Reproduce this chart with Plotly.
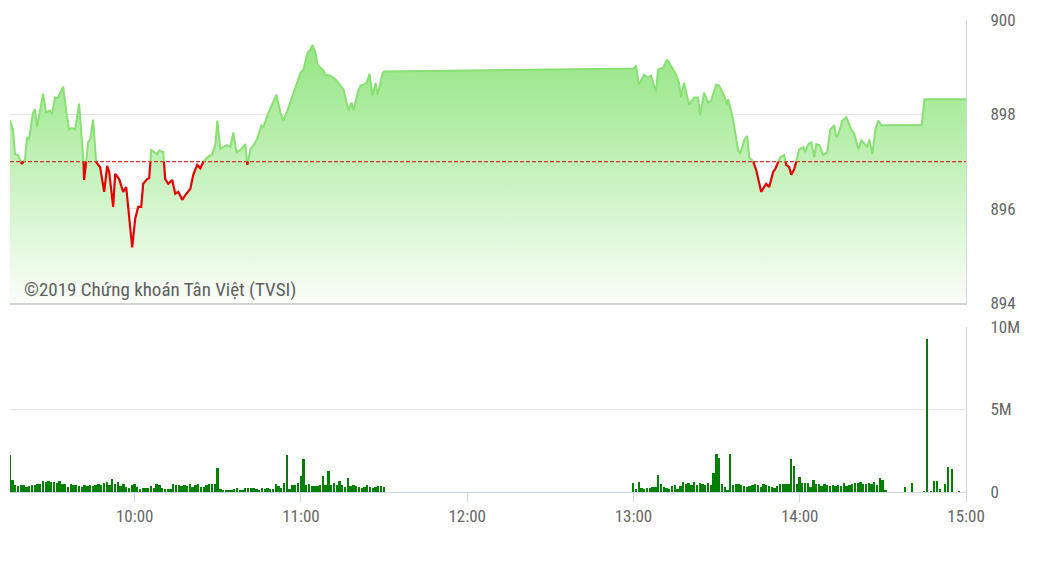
import pandas as pd
import plotly.graph_objects as go

DAY = "2019-01-01"
REF_PRICE = 897.0

price_times = [
    "09:15:00", "09:16:05", "09:16:48", "09:17:53", "09:19:20", "09:20:25", "09:21:09", "09:21:52",
    "09:23:19", "09:24:02", "09:24:46", "09:26:56", "09:28:01", "09:29:27", "09:30:11", "09:31:16",
    "09:32:21", "09:34:10", "09:35:36", "09:36:20", "09:37:25", "09:38:30", "09:39:56", "09:41:23",
    "09:41:45", "09:42:28", "09:43:11", "09:43:55", "09:45:00", "09:46:05", "09:47:32", "09:48:59",
    "09:50:04", "09:50:47", "09:52:14", "09:52:57", "09:54:24", "09:55:50", "09:56:56", "09:59:06",
    "10:00:11", "10:01:16", "10:02:21", "10:03:04", "10:04:31", "10:05:14", "10:05:58", "10:07:03",
    "10:08:08", "10:08:52", "10:10:18", "10:11:01", "10:12:07", "10:13:33", "10:14:38", "10:15:43",
    "10:17:10", "10:18:15", "10:20:04", "10:21:08", "10:22:35", "10:23:40", "10:24:46", "10:26:12",
    "10:28:01", "10:29:06", "10:29:49", "10:30:54", "10:31:59", "10:33:26", "10:34:31", "10:35:36",
    "10:36:41", "10:38:08", "10:39:56", "10:40:40", "10:41:45", "10:43:11", "10:44:17", "10:45:43",
    "10:46:27", "10:47:53", "10:49:20", "10:51:08", "10:52:35", "10:53:40", "10:55:07", "10:57:17",
    "10:59:49", "11:00:54", "11:02:21", "11:03:26", "11:04:10", "11:05:14", "11:05:58", "11:07:03",
    "11:08:08", "11:08:52", "11:10:40", "11:12:28", "11:14:17", "11:15:22", "11:16:27", "11:17:10",
    "11:18:15", "11:18:59", "11:20:25", "11:21:31", "11:22:35", "11:23:41", "11:24:46", "11:25:50",
    "11:26:56", "11:27:39", "11:29:28", "11:30:00",
    "13:00:00", "13:00:54", "13:01:59", "13:03:48", "13:05:14", "13:06:20", "13:08:08", "13:08:52",
    "13:10:40", "13:12:07", "13:13:34", "13:15:22", "13:16:27", "13:17:10", "13:18:15", "13:20:04",
    "13:21:52", "13:23:19", "13:24:02", "13:25:29", "13:26:56", "13:28:01", "13:29:49", "13:30:54",
    "13:32:43", "13:33:48", "13:34:10", "13:35:58", "13:37:46", "13:38:30", "13:39:56", "13:41:01",
    "13:41:45", "13:43:11", "13:44:17", "13:46:05", "13:47:53", "13:48:59", "13:50:25", "13:51:08",
    "13:52:14", "13:52:57", "13:54:24", "13:55:07", "13:56:12", "13:56:56", "13:58:01", "13:58:44",
    "13:59:49", "14:01:16", "14:01:59", "14:03:04", "14:04:10", "14:05:14", "14:05:58", "14:07:03",
    "14:08:29", "14:09:56", "14:11:01", "14:12:28", "14:13:11", "14:13:55", "14:15:22", "14:16:49",
    "14:18:15", "14:19:42", "14:21:08", "14:22:14", "14:23:19", "14:24:24", "14:25:07", "14:26:12",
    "14:27:17", "14:28:22", "14:29:28", "14:30:32", "14:44:00", "14:45:00", "15:00:00",
]
price_values = [
    897.87, 897.68, 897.16, 897.14, 896.95, 897.05, 897.52, 897.47,
    898.04, 898.11, 897.73, 898.44, 898.04, 898.08, 898.00, 898.36,
    898.36, 898.59, 897.94, 897.68, 897.71, 897.68, 898.23, 897.26,
    896.61, 896.99, 897.41, 897.47, 897.89, 896.99, 896.88, 896.36,
    896.91, 896.78, 896.04, 896.74, 896.63, 896.36, 896.46, 895.18,
    895.79, 896.04, 896.04, 896.53, 896.63, 896.65, 897.24, 897.20,
    897.16, 897.24, 897.20, 896.63, 896.53, 896.61, 896.32, 896.36,
    896.19, 896.29, 896.42, 896.72, 896.93, 896.86, 896.99, 897.09,
    897.16, 897.35, 897.87, 897.26, 897.31, 897.35, 897.31, 897.62,
    897.20, 897.24, 897.37, 896.93, 897.26, 897.37, 897.49, 897.77,
    897.73, 897.98, 898.19, 898.42, 898.04, 897.87, 898.08, 898.46,
    898.88, 898.95, 899.31, 899.37, 899.47, 899.31, 899.05, 898.99,
    898.93, 898.84, 898.82, 898.74, 898.61, 898.53, 898.25, 898.08,
    898.25, 898.08, 898.46, 898.61, 898.63, 898.67, 898.86, 898.40,
    898.67, 898.42, 898.88, 898.91,
    898.97, 899.03, 898.63, 898.84, 898.78, 898.82, 898.48, 898.95,
    898.99, 899.16, 899.03, 898.84, 898.67, 898.36, 898.67, 898.21,
    898.36, 898.36, 897.98, 898.46, 898.25, 898.29, 898.63, 898.61,
    898.40, 898.21, 898.32, 897.89, 897.24, 897.16, 897.45, 897.54,
    897.09, 897.01, 896.82, 896.36, 896.53, 896.46, 896.78, 896.84,
    896.99, 897.09, 897.14, 896.93, 896.88, 896.72, 896.84, 896.99,
    897.26, 897.31, 897.20, 897.37, 897.41, 897.09, 897.37, 897.35,
    897.14, 897.20, 897.68, 897.77, 897.52, 897.58, 897.87, 897.94,
    897.73, 897.58, 897.26, 897.45, 897.37, 897.31, 897.47, 897.16,
    897.68, 897.87, 897.77, 897.77, 897.77, 898.32, 898.32,
]

# Volume per minute, in millions of shares
vol_morning_start = "09:15:00"
vol_morning = [
    2.27, 0.74, 0.40, 0.36, 0.42, 0.40, 0.30, 0.36, 0.42, 0.40,
    0.50, 0.48, 0.66, 0.62, 0.64, 0.62, 0.60, 0.54, 0.64, 0.46,
    0.46, 0.30, 0.46, 0.44, 0.40, 0.36, 0.30, 0.40, 0.38, 0.44,
    0.38, 0.40, 0.48, 0.40, 0.56, 0.60, 0.42, 0.76, 0.50, 0.62,
    0.36, 0.48, 0.30, 0.24, 0.40, 0.46, 0.28, 0.20, 0.24, 0.26,
    0.26, 0.36, 0.24, 0.50, 0.40, 0.24, 0.20, 0.16, 0.20, 0.46,
    0.42, 0.40, 0.38, 0.40, 0.36, 0.46, 0.32, 0.44, 0.46, 0.30,
    0.32, 0.40, 0.46, 0.46, 0.46, 1.45, 0.16, 0.14, 0.14, 0.12,
    0.14, 0.20, 0.22, 0.14, 0.10, 0.22, 0.24, 0.22, 0.22, 0.20,
    0.14, 0.22, 0.20, 0.24, 0.18, 0.20, 0.48, 0.34, 0.22, 0.56,
    2.27, 0.18, 0.44, 0.44, 0.52, 0.94, 1.97, 0.40, 0.46, 0.34,
    0.36, 0.38, 0.40, 0.96, 0.40, 1.30, 0.42, 0.56, 0.40, 0.66,
    0.40, 0.30, 0.84, 0.36, 0.44, 0.36, 0.28, 0.22, 0.30, 0.40,
    0.30, 0.26, 0.30, 0.36, 0.36, 0.30,
]
vol_afternoon_start = "13:00:00"
vol_afternoon = [
    0.52, 0.16, 0.62, 0.26, 0.20, 0.26, 0.26, 0.32, 0.32, 1.00,
    0.46, 0.32, 0.26, 0.20, 0.36, 0.40, 0.20, 0.34, 0.62, 0.46,
    0.52, 0.40, 0.62, 0.40, 0.52, 0.46, 0.40, 0.52, 0.40, 1.12,
    2.33, 2.03, 0.46, 0.30, 0.12, 2.33, 0.40, 0.46, 0.46, 0.40,
    0.36, 0.30, 0.36, 0.40, 0.46, 0.40, 0.30, 0.46, 0.40, 0.36,
    0.30, 0.26, 0.36, 0.46, 0.46, 0.46, 0.50, 1.97, 1.57, 0.46,
    0.88, 0.52, 0.52, 0.52, 0.30, 0.70, 0.46, 0.46, 0.36, 0.46,
    0.40, 0.36, 0.40, 0.36, 0.40, 0.36, 0.52, 0.36, 0.40, 0.46,
    0.52, 0.52, 0.62, 0.46, 0.46, 0.56, 0.46, 0.62, 0.40, 0.82,
    0.72, 0.06,
]
vol_late_times = ["14:38:00", "14:40:30", "14:45:00", "14:46:00", "14:47:30", "14:48:35",
                  "14:49:40", "14:50:40", "14:52:30", "14:53:35", "14:55:00", "14:57:35"]
vol_late = [0.30, 0.52, 0.04, 9.26, 0.05, 0.64, 0.64, 0.16, 0.46, 1.49, 1.37, 0.02]

x_ticks = ["10:00", "11:00", "12:00", "13:00", "14:00", "15:00"]
price_ticks = [894, 896, 898, 900]
vol_ticks = [0, 5, 10]
vol_tick_text = ["0", "5M", "10M"]
credit_text = "©2019 Chứng khoán Tân Việt (TVSI)"

FONT = "Roboto Condensed, DejaVu Sans Condensed, Liberation Sans Narrow, Roboto, sans-serif"


def ts(s):
    return pd.Timestamp(f"{DAY} {s}")


# ---- split the price line at the reference level ----
t = [ts(s) for s in price_times]
xs, ys = [], []
for i, pv in enumerate(price_values):
    if i > 0:
        a = price_values[i - 1]
        if (a - REF_PRICE) * (pv - REF_PRICE) < 0:
            f = (REF_PRICE - a) / (pv - a)
            xs.append(t[i - 1] + (t[i] - t[i - 1]) * f)
            ys.append(REF_PRICE)
    xs.append(t[i])
    ys.append(pv)
green_y = [y if y >= REF_PRICE else None for y in ys]
red_y = [y if y <= REF_PRICE else None for y in ys]

vx = (list(pd.date_range(ts(vol_morning_start), periods=len(vol_morning), freq="1min"))
      + list(pd.date_range(ts(vol_afternoon_start), periods=len(vol_afternoon), freq="1min"))
      + [ts(s) for s in vol_late_times])
vy = vol_morning + vol_afternoon + vol_late

x_start, x_end = ts("09:15:00"), ts("15:00:00")

fig = go.Figure()
fig.add_trace(go.Scatter(
    x=xs, y=ys, mode="lines", line=dict(width=0), fill="tozeroy",
    fillgradient=dict(type="vertical",
                      colorscale=[[0, "rgb(251,254,250)"], [1, "rgb(138,228,120)"]],
                      start=894, stop=900),
    hoverinfo="skip", showlegend=False, xaxis="x", yaxis="y"))
fig.add_trace(go.Scatter(
    x=[x_start, x_end], y=[REF_PRICE, REF_PRICE], mode="lines",
    line=dict(color="rgba(220,20,10,0.85)", width=1.4, dash="4px,2px"),
    hoverinfo="skip", showlegend=False, xaxis="x", yaxis="y"))
fig.add_trace(go.Scatter(
    x=xs, y=green_y, mode="lines", line=dict(color="rgb(136,224,114)", width=2),
    connectgaps=False, showlegend=False, xaxis="x", yaxis="y"))
fig.add_trace(go.Scatter(
    x=xs, y=red_y, mode="lines", line=dict(color="rgb(232,0,0)", width=2.2),
    connectgaps=False, showlegend=False, xaxis="x", yaxis="y"))
fig.add_trace(go.Bar(
    x=vx, y=vy, width=40000, marker=dict(color="rgb(0,128,0)", line=dict(width=0)),
    showlegend=False, xaxis="x2", yaxis="y2"))

axis_font = dict(family=FONT, size=17, color="#666666")

fig.update_layout(
    width=1029, height=575,
    margin=dict(l=2, r=71, t=9, b=91),
    paper_bgcolor="white", plot_bgcolor="white",
    bargap=0,
    xaxis=dict(domain=[0, 1], anchor="y", type="date", range=[x_start, x_end],
               showticklabels=False, showgrid=False, zeroline=False,
               showline=True, linecolor="#d2d2d2", linewidth=2, ticks=""),
    yaxis=dict(domain=[0.4, 1], anchor="x", side="right", range=[894, 900],
               tickvals=price_ticks, showgrid=True, gridcolor="#e3e3e3", gridwidth=1,
               zeroline=False, showline=True, linecolor="#ccd6eb", linewidth=1,
               ticks="", ticklabelstandoff=20, tickfont=axis_font),
    xaxis2=dict(domain=[0, 1], anchor="y2", type="date", matches="x",
                range=[x_start, x_end],
                tickvals=[ts(s) for s in x_ticks], ticktext=x_ticks,
                showgrid=False, zeroline=False, showline=True, linecolor="#ccd6eb",
                ticks="outside", ticklen=9, tickcolor="#ccd6eb", tickfont=axis_font),
    yaxis2=dict(domain=[0, 0.3495], anchor="x2", side="right", range=[0, 10],
                tickvals=vol_ticks, ticktext=vol_tick_text,
                showgrid=True, gridcolor="#e3e3e3", zeroline=False,
                showline=True, linecolor="#ccd6eb", ticks="", ticklabelstandoff=20,
                tickfont=axis_font),
    annotations=[dict(text=credit_text, xref="paper", yref="paper",
                      x=0.0125, y=0.4295, xanchor="left", yanchor="middle",
                      showarrow=False,
                      font=dict(family=FONT, size=19, color="#606060"))],
)

fig.write_html("out.html")
